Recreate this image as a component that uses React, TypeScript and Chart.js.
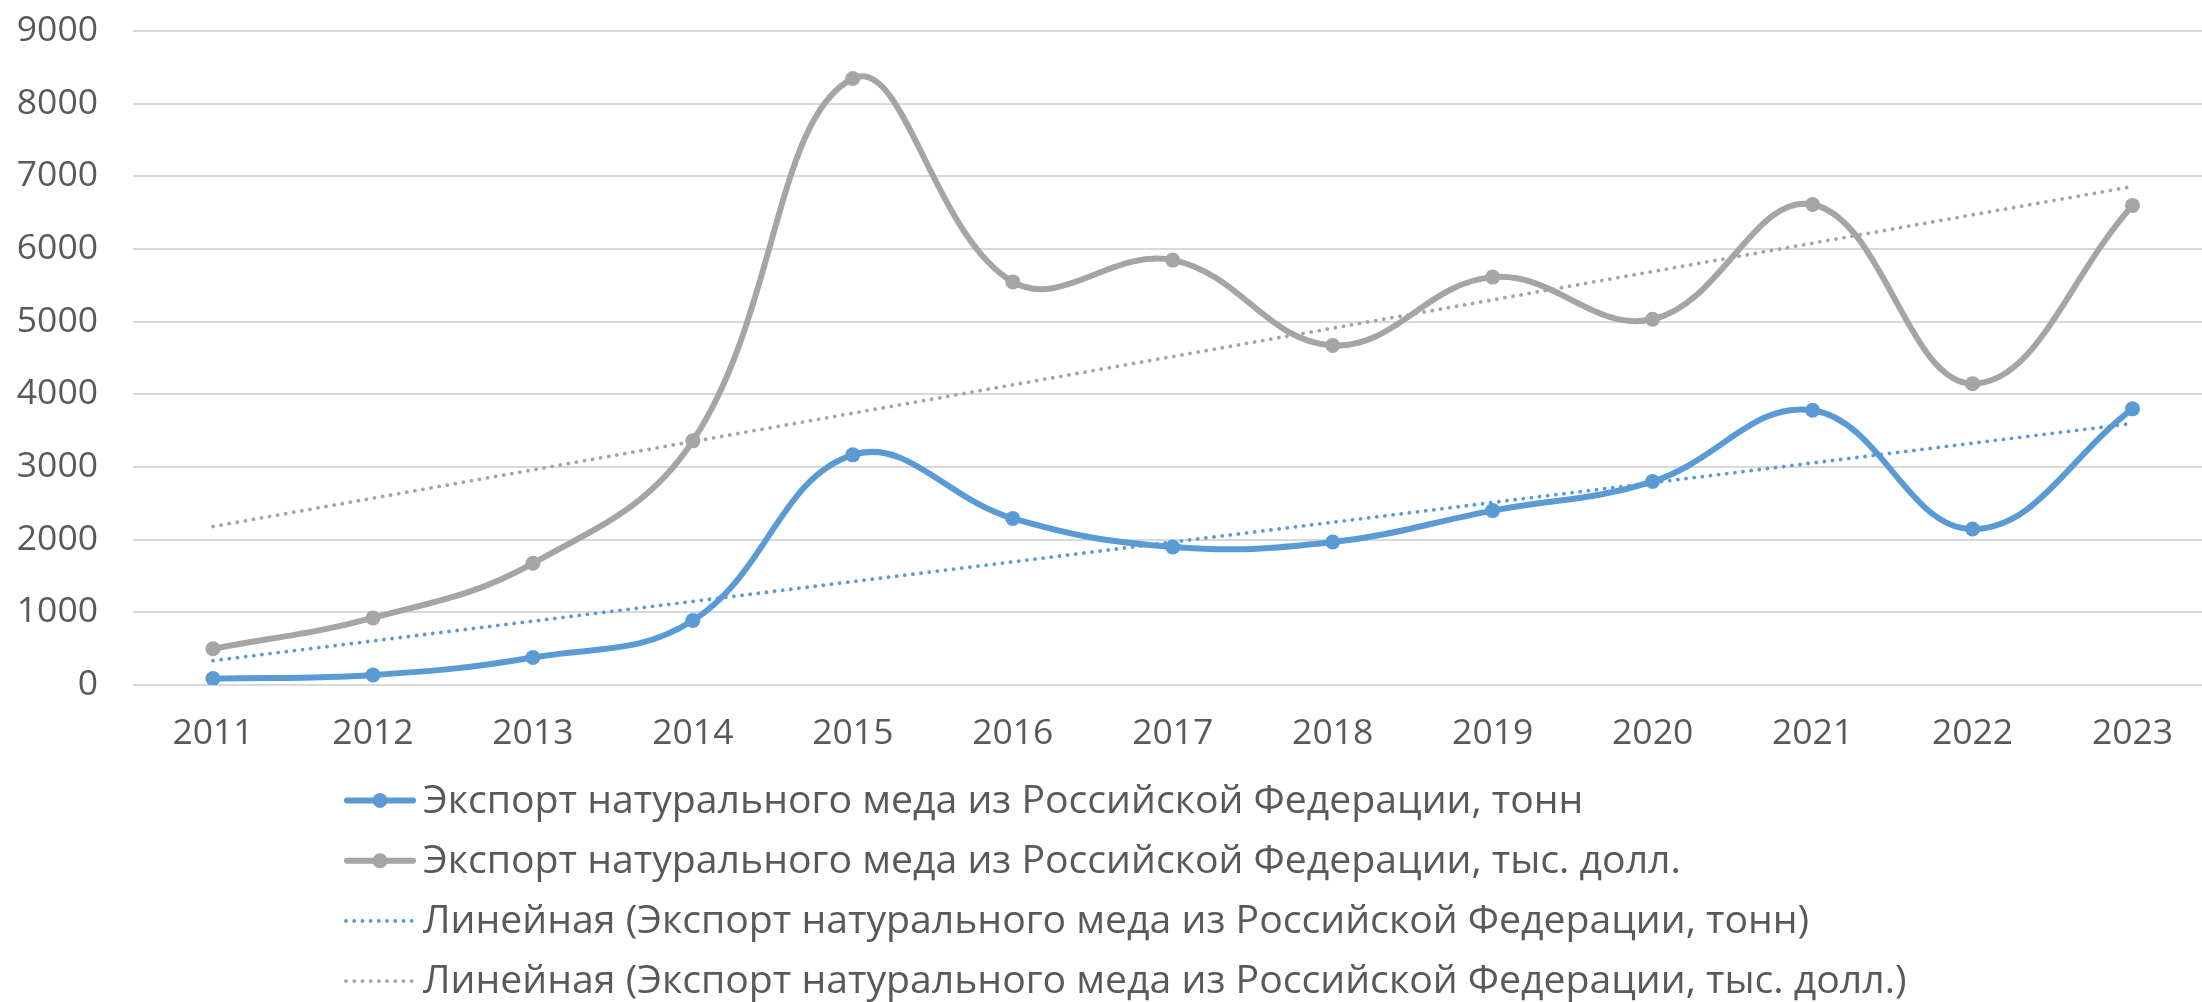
import React, { useEffect, useRef } from "react";
import { Chart, registerables } from "chart.js";

Chart.register(...registerables);

const years = ["2011", "2012", "2013", "2014", "2015", "2016", "2017", "2018", "2019", "2020", "2021", "2022", "2023"];
const exportTonnes = [88, 139, 379, 887, 3167, 2293, 1900, 1967, 2400, 2800, 3780, 2147, 3800];
const exportThousandUsd = [499, 923, 1675, 3360, 8347, 5547, 5847, 4673, 5613, 5033, 6613, 4147, 6600];
const trendTonnesEnds = [335, 3600];
const trendUsdEnds = [2181, 6860];
const trendYears = ["2011", "2023"];
const yTicks = [0, 1000, 2000, 3000, 4000, 5000, 6000, 7000, 8000, 9000];
const seriesLabels = [
  "Экспорт натурального меда из Российской Федерации, тонн",
  "Экспорт натурального меда из Российской Федерации, тыс. долл.",
  "Линейная (Экспорт натурального меда из Российской Федерации, тонн)",
  "Линейная (Экспорт натурального меда из Российской Федерации, тыс. долл.)",
];

const BLUE = "#5B9BD5";
const GRAY = "#A5A5A5";
const TEXT = "#595959";
const GRID = "#D9D9D9";
const FONT = "'Open Sans', 'Noto Sans', sans-serif";
const TICK_SIZE = 35.5;
const LEGEND_SIZE = 39.2;

const CANVAS_W = 2220;
const CANVAS_H = 1002;
const AXIS_W = 133;
const X_AXIS_H = 80;
const PLOT_TOP = 31;
const PLOT_BOTTOM = 685;

const LEGEND_X = 344;
const LEGEND_LINE_W = 72;
const LEGEND_TEXT_X = 423;
const LEGEND_Y0 = 800.5;
const LEGEND_STEP = 60.2;

const excelLegend = {
  id: "excelLegend",
  afterDraw(chart: any) {
    const ctx: CanvasRenderingContext2D = chart.ctx;
    ctx.save();
    chart.data.datasets.forEach((ds: any, i: number) => {
      const y = LEGEND_Y0 + i * LEGEND_STEP;
      ctx.beginPath();
      ctx.strokeStyle = ds.borderColor;
      ctx.lineWidth = ds.borderWidth;
      ctx.setLineDash(ds.borderDash || []);
      ctx.lineCap = ds.borderCapStyle || "butt";
      ctx.moveTo(LEGEND_X + (ds.borderDash ? 2 : 3), y);
      ctx.lineTo(LEGEND_X + LEGEND_LINE_W - 3, y);
      ctx.stroke();
      ctx.setLineDash([]);
      if (ds.pointRadius > 0) {
        ctx.beginPath();
        ctx.fillStyle = ds.pointBackgroundColor;
        ctx.arc(LEGEND_X + LEGEND_LINE_W / 2, y, ds.pointRadius, 0, Math.PI * 2);
        ctx.fill();
      }
      ctx.fillStyle = TEXT;
      ctx.font = `${LEGEND_SIZE}px ${FONT}`;
      ctx.textAlign = "left";
      ctx.textBaseline = "middle";
      ctx.fillText(ds.label, LEGEND_TEXT_X, y + 1);
    });
    ctx.restore();
  },
};

export default function App() {
  const ref = useRef<HTMLCanvasElement | null>(null);
  useEffect(() => {
    if (!ref.current) return;
    const chart = new Chart(ref.current, {
      type: "line",
      data: {
        labels: years,
        datasets: [
          {
            label: seriesLabels[0],
            data: exportTonnes,
            borderColor: BLUE,
            backgroundColor: BLUE,
            pointBackgroundColor: BLUE,
            pointBorderColor: BLUE,
            borderWidth: 6,
            pointRadius: 7.5,
            pointBorderWidth: 0,
            tension: 0.4,
            borderCapStyle: "round",
            borderJoinStyle: "round",
            fill: false,
            order: 1,
          } as any,
          {
            label: seriesLabels[1],
            data: exportThousandUsd,
            borderColor: GRAY,
            backgroundColor: GRAY,
            pointBackgroundColor: GRAY,
            pointBorderColor: GRAY,
            borderWidth: 6,
            pointRadius: 7.5,
            pointBorderWidth: 0,
            tension: 0.4,
            borderCapStyle: "round",
            borderJoinStyle: "round",
            fill: false,
            order: 2,
          } as any,
          {
            label: seriesLabels[2],
            data: trendYears.map((x, i) => ({ x, y: trendTonnesEnds[i] })),
            borderColor: BLUE,
            backgroundColor: BLUE,
            borderWidth: 3.8,
            borderDash: [0.1, 8.1],
            borderCapStyle: "round",
            pointRadius: 0,
            tension: 0,
            fill: false,
            order: 0,
          } as any,
          {
            label: seriesLabels[3],
            data: trendYears.map((x, i) => ({ x, y: trendUsdEnds[i] })),
            borderColor: GRAY,
            backgroundColor: GRAY,
            borderWidth: 3.8,
            borderDash: [0.1, 8.1],
            borderCapStyle: "round",
            pointRadius: 0,
            tension: 0,
            fill: false,
            order: 0,
          } as any,
        ],
      },
      options: {
        responsive: false,
        animation: false,
        devicePixelRatio: 1,
        layout: {
          padding: { left: 0, right: 0, top: PLOT_TOP, bottom: CANVAS_H - PLOT_BOTTOM - X_AXIS_H },
        },
        plugins: {
          legend: { display: false },
          tooltip: { enabled: false },
          title: { display: false },
        },
        scales: {
          x: {
            type: "category",
            offset: true,
            grid: { display: false, drawTicks: false },
            border: { display: false },
            ticks: {
              color: TEXT,
              font: { family: FONT, size: TICK_SIZE },
              padding: 28,
              maxRotation: 0,
              autoSkip: false,
            },
            afterFit: (s: any) => {
              s.height = X_AXIS_H;
              s.paddingLeft = 0;
              s.paddingRight = 0;
            },
          },
          y: {
            min: 0,
            max: 9000,
            afterBuildTicks: (s: any) => {
              s.ticks = yTicks.map((v) => ({ value: v }));
            },
            grid: { color: GRID, lineWidth: 2, drawTicks: false },
            border: { display: false },
            ticks: {
              color: TEXT,
              font: { family: FONT, size: TICK_SIZE },
              padding: 35,
              callback: (v: any) => String(v),
            },
            afterFit: (s: any) => {
              s.width = AXIS_W;
              s.paddingTop = 0;
              s.paddingBottom = 0;
            },
          },
        },
      },
      plugins: [excelLegend],
    });
    return () => chart.destroy();
  }, []);

  return (
    <div
      style={{
        position: "fixed",
        left: 0,
        top: 0,
        width: 2202,
        height: 1002,
        overflow: "hidden",
        background: "#fff",
      }}
    >
      <canvas ref={ref} width={CANVAS_W} height={CANVAS_H} style={{ width: CANVAS_W, height: CANVAS_H, display: "block" }} />
    </div>
  );
}
